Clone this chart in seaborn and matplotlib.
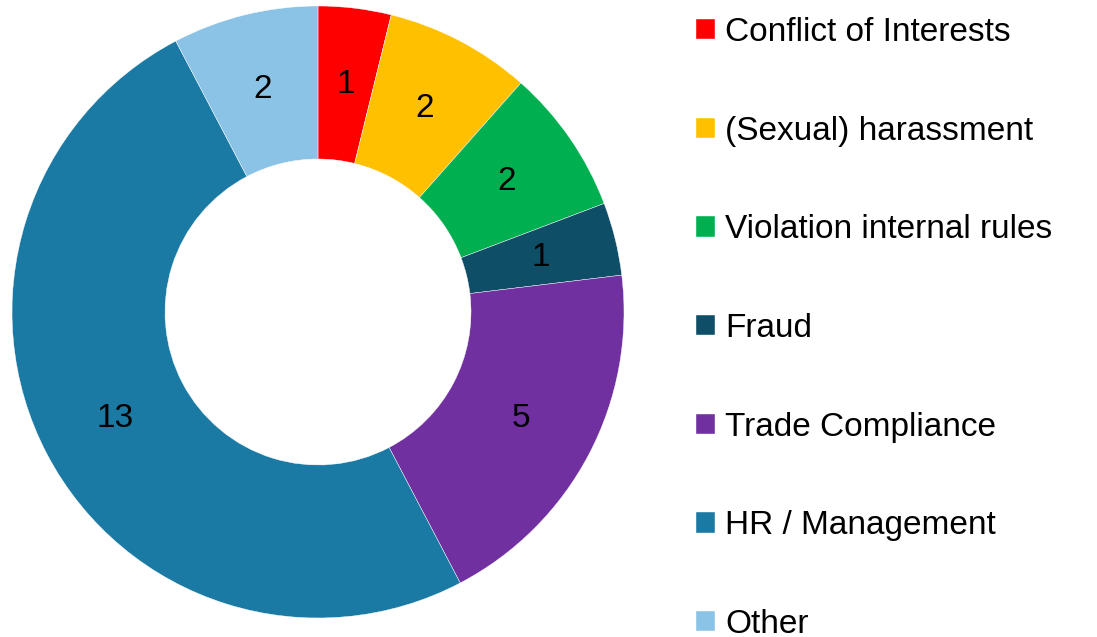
import matplotlib
matplotlib.use("Agg")
import matplotlib.pyplot as plt
import seaborn as sns

categories = ["Conflict of Interests", "(Sexual) harassment", "Violation internal rules",
              "Fraud", "Trade Compliance", "HR / Management", "Other"]
counts = [1, 2, 2, 1, 5, 13, 2]
colors = ["#FF0000", "#FFC000", "#00B050", "#0F4E67", "#7030A0", "#1A7AA3", "#8BC3E6"]

sns.set_theme(style="white")
plt.rcParams['font.family'] = ['Liberation Sans', 'DejaVu Sans']

fig = plt.figure(figsize=(10.97, 6.37), dpi=100)
W, H = 1097, 637
cx, cy, r = 318, 312, 306
ax = fig.add_axes([(cx - r) / W, (H - cy - r) / H, 2 * r / W, 2 * r / H])

wedges, texts = ax.pie(counts, colors=colors, startangle=90, counterclock=False,
                       labels=[str(c) for c in counts], labeldistance=0.75,
                       wedgeprops=dict(width=0.5, edgecolor="white", linewidth=0.3),
                       textprops=dict(fontsize=24, color="black", ha="center", va="center"))
ax.set_xlim(-1, 1)
ax.set_ylim(-1, 1)
ax.set_aspect("equal")

leg = fig.legend(wedges, categories, loc="upper left", bbox_to_anchor=(696 / W, 1 - 17 / H),
                 frameon=False, fontsize=24, handlelength=0.57, handleheight=0.57,
                 handletextpad=0.3, labelspacing=2.03, borderaxespad=0, borderpad=0)
for t in leg.get_texts():
    t.set_color("black")

fig.savefig("out.png", dpi=100)
